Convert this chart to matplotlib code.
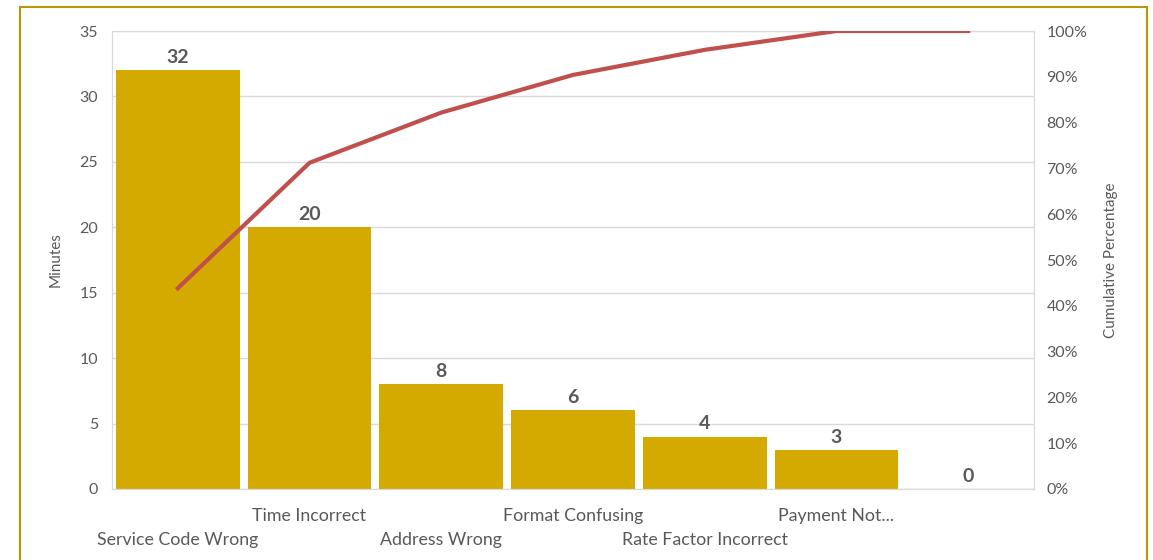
import matplotlib.pyplot as plt
from matplotlib.patches import Rectangle
from matplotlib.ticker import PercentFormatter

plt.rcParams['font.family'] = ['Lato', 'DejaVu Sans']

categories = ["Service Code Wrong", "Time Incorrect", "Address Wrong",
              "Format Confusing", "Rate Factor Incorrect", "Payment Not...", ""]
minutes = [32, 20, 8, 6, 4, 3, 0]

total = sum(minutes)
cum_pct = []
running = 0
for m in minutes:
    running += m
    cum_pct.append(running / total)

bar_color = "#D4AA00"
line_color = "#C0504D"
text_grey = "#595959"
grid_grey = "#D9D9D9"

fig = plt.figure(figsize=(11.53, 5.6), dpi=100)
ax = fig.add_axes([0.0971, 0.1268, 0.7997, 0.8178])

x = list(range(len(categories)))
ax.bar(x, minutes, width=0.94, color=bar_color, zorder=2)
for xi, v in zip(x, minutes):
    ax.annotate(str(v), (xi, v), xytext=(0, 3), textcoords="offset points",
                ha="center", va="bottom", fontsize=14, fontweight="bold",
                color=text_grey)

ax.set_xlim(-0.5, len(categories) - 0.5)
ax.set_ylim(0, 35)
ax.set_yticks(range(0, 36, 5))
ax.yaxis.grid(True, color=grid_grey, linewidth=1)
ax.set_axisbelow(True)
ax.tick_params(axis="y", length=0, pad=10, labelsize=11.5, labelcolor=text_grey)
ax.set_xticks([])
for s in ax.spines.values():
    s.set_color(grid_grey)
ax.set_ylabel("Minutes", fontsize=11, color=text_grey, labelpad=12)

# staggered category labels
for i, name in enumerate(categories):
    offset = -27 if i % 2 else -51
    ax.annotate(name, (i, 0), xytext=(0, offset), textcoords="offset pixels",
                ha="center", va="center", fontsize=12.8, color=text_grey,
                annotation_clip=False)

ax2 = ax.twinx()
ax2.plot(x, cum_pct, color=line_color, linewidth=3, zorder=3)
ax2.set_ylim(0, 1)
ax2.set_yticks([i / 10 for i in range(11)])
ax2.yaxis.set_major_formatter(PercentFormatter(1.0, decimals=0))
ax2.tick_params(axis="y", length=0, pad=9, labelsize=11.5, labelcolor=text_grey)
for s in ax2.spines.values():
    s.set_color(grid_grey)
ax2.set_ylabel("Cumulative Percentage", fontsize=11, color=text_grey,
               labelpad=12)

fig.patches.append(Rectangle((20 / 1153, -0.1), 1127 / 1153, 1.1 - 7 / 560,
                             transform=fig.transFigure, fill=False,
                             edgecolor="#B8960C", linewidth=1.5))

fig.savefig("out.png", dpi=100)
